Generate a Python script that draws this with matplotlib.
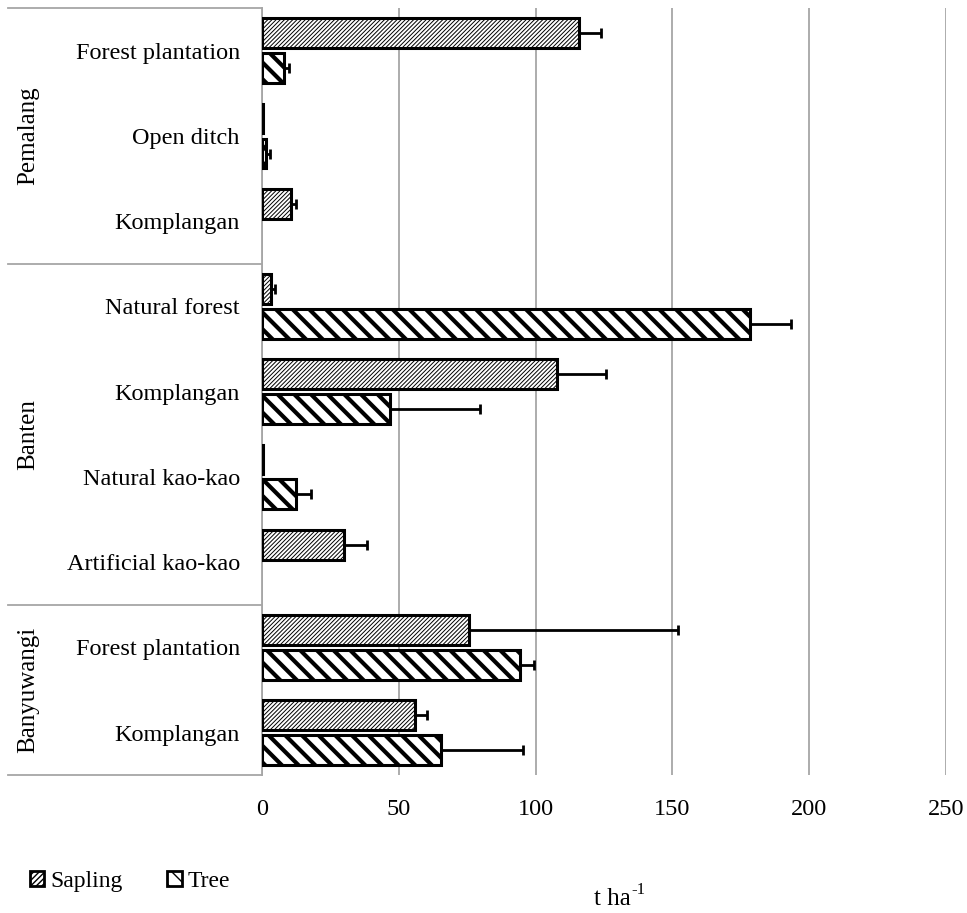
import numpy as np
import matplotlib
matplotlib.use('Agg')
from matplotlib import pyplot as plt
from matplotlib.patches import Patch

# data, read top to bottom from the chart
groups = ['Pemalang', 'Banten', 'Banyuwangi']
group_sizes = [3, 4, 2]
categories = ['Forest plantation', 'Open ditch', 'Komplangan',
              'Natural forest', 'Komplangan', 'Natural kao-kao', 'Artificial kao-kao',
              'Forest plantation', 'Komplangan']
sapling = [116, 0.5, 10.6, 3.3, 108, 0.3, 30, 75.6, 55.9]
sapling_err = [8, 0, 1.8, 1.4, 17.7, 0, 8.4, 76.4, 4.4]
tree = [8, 1.5, 0, 178.5, 46.8, 12.4, 0, 94.3, 65.4]
tree_err = [2, 1.4, 0, 15, 32.8, 5.5, 0, 5.1, 30]
xticks = [0, 50, 100, 150, 200, 250]

plt.rcParams['font.family'] = ['Liberation Serif', 'DejaVu Serif']
grey = '#a6a6a6'

fig = plt.figure(figsize=(9.67, 9.13), dpi=100)
ax = fig.add_axes([0.271, 0.151, 0.707, 0.840])

y = np.arange(len(categories))
off = 0.205
h = 0.35

# zero values get no bar at all
sap_w = [v if v > 0 else np.nan for v in sapling]
tree_w = [v if v > 0 else np.nan for v in tree]

# sapling: fine thin hatch, tree: wide thick hatch
with plt.rc_context({'hatch.linewidth': 0.7}):
    ax.barh(y - off, sap_w, height=h, color='white', edgecolor='black',
            linewidth=2.2, hatch='////////', zorder=3)
with plt.rc_context({'hatch.linewidth': 3.0}):
    ax.barh(y + off, tree_w, height=h, color='white', edgecolor='black',
            linewidth=2.2, hatch='\\\\', zorder=3)

# error bars (only one side, like the original)
for yy, v, e in zip(y - off, sapling, sapling_err):
    if e > 0:
        ax.errorbar(v, yy, xerr=[[0], [e]], fmt='none', ecolor='black',
                    elinewidth=2, capsize=3.8, capthick=2, zorder=4)
for yy, v, e in zip(y + off, tree, tree_err):
    if e > 0:
        ax.errorbar(v, yy, xerr=[[0], [e]], fmt='none', ecolor='black',
                    elinewidth=2, capsize=3.8, capthick=2, zorder=4)

ax.set_xlim(0, 250)
ax.set_ylim(len(categories) - 0.5, -0.5)
ax.set_xticks(xticks)
ax.set_yticks(y)
ax.set_yticklabels(categories)
ax.tick_params(axis='both', length=0, labelsize=17.5)
ax.tick_params(axis='y', pad=16)
ax.tick_params(axis='x', pad=17)
ax.xaxis.grid(True, color=grey, linewidth=1.3, zorder=0)
ax.set_axisbelow(True)

for s in ['top', 'right', 'bottom']:
    ax.spines[s].set_visible(False)
ax.spines['left'].set_color(grey)
ax.spines['left'].set_linewidth(1.3)

# group box on the left
trans = ax.get_yaxis_transform()
x0 = -0.371
bounds = [-0.5]
for n in group_sizes:
    bounds.append(bounds[-1] + n)
for b in bounds:
    ax.plot([x0, 0], [b, b], color=grey, linewidth=1.3, transform=trans, clip_on=False)
for g, lo, hi in zip(groups, bounds[:-1], bounds[1:]):
    ax.text(-0.342, (lo + hi) / 2, g, rotation=90, ha='center', va='center',
            fontsize=18, transform=trans)

# legend
handles = [Patch(facecolor='white', edgecolor='black', hatch='//////', linewidth=2),
           Patch(facecolor='white', edgecolor='black', hatch='\\\\', linewidth=2)]
fig.legend(handles, ['Sapling', 'Tree'], loc='center left', bbox_to_anchor=(0.014, 1 - 881 / 913),
           ncol=2, frameon=False, fontsize=17, handlelength=0.6, handleheight=0.6,
           handletextpad=0.25, columnspacing=1.9, borderpad=0.2)

# axis title: t ha-1 with a plain hyphen in the superscript
fig.text(631 / 967, 1 - 899 / 913, 't ha', ha='right', va='center', fontsize=18)
fig.text(631 / 967, 1 - 890 / 913, '-1', ha='left', va='center', fontsize=12)

plt.savefig('out.png', dpi=100)
